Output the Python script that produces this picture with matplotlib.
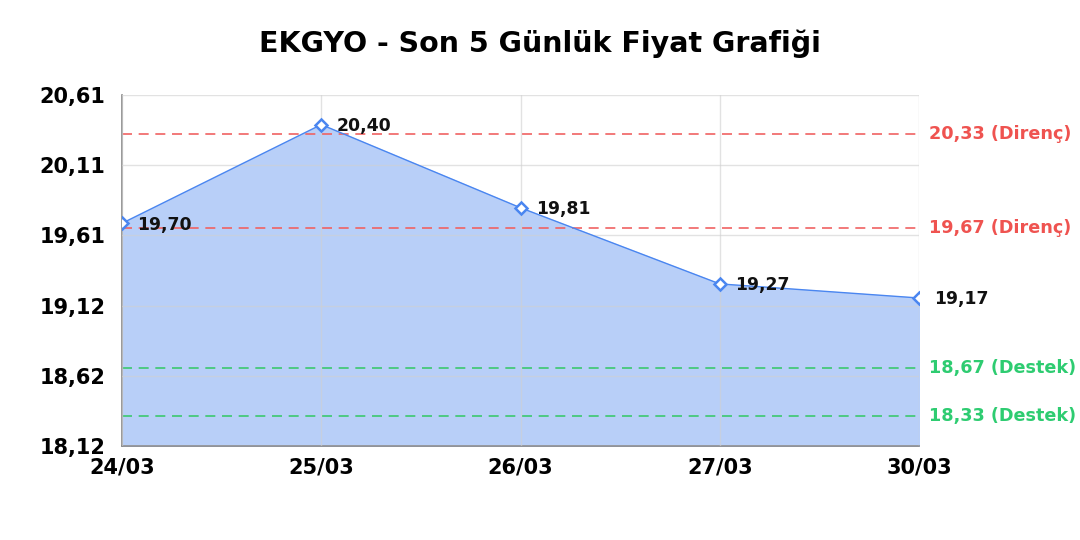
import matplotlib
matplotlib.use("Agg")
import matplotlib.pyplot as plt
import numpy as np

dates = ["24/03", "25/03", "26/03", "27/03", "30/03"]
prices = [19.70, 20.40, 19.81, 19.27, 19.17]
resistance = [20.33, 19.67]
support = [18.67, 18.33]
y_min, y_max = 18.12, 20.61

def fmt(v):
    return f"{v:.2f}".replace(".", ",")

fig = plt.figure(figsize=(10.8, 5.4), dpi=100)
ax = fig.add_axes([122/1080, 1-446/540, (919-122)/1080, (446-95)/540])

x = np.arange(len(dates))
line_c = "#4a86f0"
ax.fill_between(x, prices, y_min, color="#b8cff8", zorder=1)
ax.plot(x, prices, color=line_c, lw=1.0, zorder=3)
ax.plot(x, prices, ls="none", marker="D", ms=6.5, mfc="white", mec=line_c, mew=1.8, zorder=4)

for xi, v in zip(x, prices):
    ax.annotate(fmt(v), (xi, v), xytext=(11, -1), textcoords="offset points",
                ha="left", va="center", fontsize=12.4, fontweight="bold", color="#111111", zorder=5)

red = "#f06262"
green = "#3cc86e"
for r in resistance:
    ax.axhline(r, color=red, ls=(0, (6, 4)), lw=1.2, zorder=2)
    ax.text(1.012, r, f"{fmt(r)} (Direnç)", transform=ax.get_yaxis_transform(),
            ha="left", va="center", fontsize=12.7, fontweight="bold", color="#ef5350")
for s in support:
    ax.axhline(s, color=green, ls=(0, (6, 4)), lw=1.2, zorder=2)
    ax.text(1.012, s, f"{fmt(s)} (Destek)", transform=ax.get_yaxis_transform(),
            ha="left", va="center", fontsize=12.7, fontweight="bold", color="#2ecc71")

ax.set_xlim(0, len(dates) - 1)
ax.set_ylim(y_min, y_max)
yt = np.linspace(y_min, y_max, 6)
ax.set_yticks(yt)
ax.set_yticklabels([fmt(v) for v in yt])
ax.set_xticks(x)
ax.set_xticklabels(dates)
ax.grid(True, color="#d0d0d0", alpha=0.6, lw=1, zorder=0)
ax.set_axisbelow(False)
for t in ax.get_xticklabels() + ax.get_yticklabels():
    t.set_fontweight("bold")
    t.set_fontsize(15)
ax.tick_params(length=0)
ax.tick_params(axis="y", pad=12)
ax.tick_params(axis="x", pad=8)
for sp in ["top", "right"]:
    ax.spines[sp].set_visible(False)
for sp in ["left", "bottom"]:
    ax.spines[sp].set_color("#888888")
    ax.spines[sp].set_linewidth(1.2)

fig.suptitle("EKGYO - Son 5 Günlük Fiyat Grafiği", x=0.5, y=1-44/540, va="center",
             fontsize=20.5, fontweight="bold")
fig.savefig("out.png", dpi=100)
